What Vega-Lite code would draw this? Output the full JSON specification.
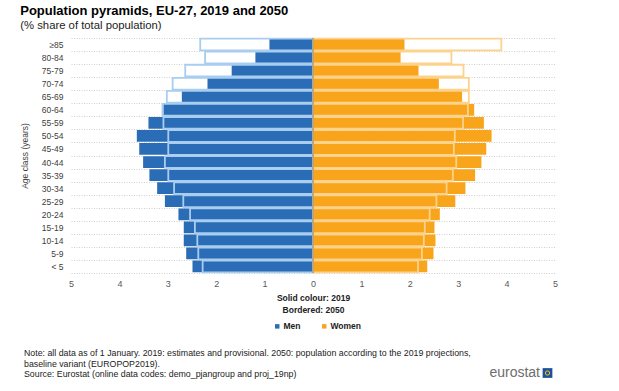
{
  "$schema": "https://vega.github.io/schema/vega-lite/v6.json",
  "background": "white",
  "padding": {"left": 20, "top": 4, "right": 10, "bottom": 4},
  "config": {"font": "Liberation Sans", "view": {"stroke": null}},
  "bounds": "flush",
  "spacing": 93,
  "resolve": {"legend": {"color": "independent"}, "scale": {"color": "independent"}},
  "title": {
    "text": "Population pyramids, EU-27, 2019 and 2050",
    "subtitle": "(% share of total population)",
    "anchor": "start",
    "frame": "bounds",
    "dx": 0,
    "fontSize": 13,
    "fontWeight": "bold",
    "color": "#000000",
    "subtitleFontSize": 11.3,
    "subtitleColor": "#222222",
    "subtitlePadding": 2,
    "offset": 3
  },
  "vconcat": [
    {
      "width": 484,
      "height": 235,
      "data": {
        "values": [
          {"age": "≥85", "sex": "Men", "year": 2019, "value": -0.90},
          {"age": "80-84", "sex": "Men", "year": 2019, "value": -1.19},
          {"age": "75-79", "sex": "Men", "year": 2019, "value": -1.68},
          {"age": "70-74", "sex": "Men", "year": 2019, "value": -2.18},
          {"age": "65-69", "sex": "Men", "year": 2019, "value": -2.71},
          {"age": "60-64", "sex": "Men", "year": 2019, "value": -3.09},
          {"age": "55-59", "sex": "Men", "year": 2019, "value": -3.40},
          {"age": "50-54", "sex": "Men", "year": 2019, "value": -3.64},
          {"age": "45-49", "sex": "Men", "year": 2019, "value": -3.59},
          {"age": "40-44", "sex": "Men", "year": 2019, "value": -3.51},
          {"age": "35-39", "sex": "Men", "year": 2019, "value": -3.38},
          {"age": "30-34", "sex": "Men", "year": 2019, "value": -3.22},
          {"age": "25-29", "sex": "Men", "year": 2019, "value": -3.06},
          {"age": "20-24", "sex": "Men", "year": 2019, "value": -2.78},
          {"age": "15-19", "sex": "Men", "year": 2019, "value": -2.67},
          {"age": "10-14", "sex": "Men", "year": 2019, "value": -2.67},
          {"age": "5-9", "sex": "Men", "year": 2019, "value": -2.62},
          {"age": "< 5", "sex": "Men", "year": 2019, "value": -2.49},
          {"age": "≥85", "sex": "Women", "year": 2019, "value": 1.89},
          {"age": "80-84", "sex": "Women", "year": 2019, "value": 1.81},
          {"age": "75-79", "sex": "Women", "year": 2019, "value": 2.18},
          {"age": "70-74", "sex": "Women", "year": 2019, "value": 2.60},
          {"age": "65-69", "sex": "Women", "year": 2019, "value": 3.08},
          {"age": "60-64", "sex": "Women", "year": 2019, "value": 3.33},
          {"age": "55-59", "sex": "Women", "year": 2019, "value": 3.53},
          {"age": "50-54", "sex": "Women", "year": 2019, "value": 3.69},
          {"age": "45-49", "sex": "Women", "year": 2019, "value": 3.58},
          {"age": "40-44", "sex": "Women", "year": 2019, "value": 3.48},
          {"age": "35-39", "sex": "Women", "year": 2019, "value": 3.35},
          {"age": "30-34", "sex": "Women", "year": 2019, "value": 3.15},
          {"age": "25-29", "sex": "Women", "year": 2019, "value": 2.94},
          {"age": "20-24", "sex": "Women", "year": 2019, "value": 2.62},
          {"age": "15-19", "sex": "Women", "year": 2019, "value": 2.51},
          {"age": "10-14", "sex": "Women", "year": 2019, "value": 2.53},
          {"age": "5-9", "sex": "Women", "year": 2019, "value": 2.49},
          {"age": "< 5", "sex": "Women", "year": 2019, "value": 2.36},
          {"age": "≥85", "sex": "Men", "year": 2050, "value": -2.33},
          {"age": "80-84", "sex": "Men", "year": 2050, "value": -2.23},
          {"age": "75-79", "sex": "Men", "year": 2050, "value": -2.64},
          {"age": "70-74", "sex": "Men", "year": 2050, "value": -2.90},
          {"age": "65-69", "sex": "Men", "year": 2050, "value": -3.02},
          {"age": "60-64", "sex": "Men", "year": 2050, "value": -3.11},
          {"age": "55-59", "sex": "Men", "year": 2050, "value": -3.09},
          {"age": "50-54", "sex": "Men", "year": 2050, "value": -2.99},
          {"age": "45-49", "sex": "Men", "year": 2050, "value": -2.99},
          {"age": "40-44", "sex": "Men", "year": 2050, "value": -3.06},
          {"age": "35-39", "sex": "Men", "year": 2050, "value": -2.99},
          {"age": "30-34", "sex": "Men", "year": 2050, "value": -2.87},
          {"age": "25-29", "sex": "Men", "year": 2050, "value": -2.68},
          {"age": "20-24", "sex": "Men", "year": 2050, "value": -2.54},
          {"age": "15-19", "sex": "Men", "year": 2050, "value": -2.44},
          {"age": "10-14", "sex": "Men", "year": 2050, "value": -2.39},
          {"age": "5-9", "sex": "Men", "year": 2050, "value": -2.37},
          {"age": "< 5", "sex": "Men", "year": 2050, "value": -2.28},
          {"age": "≥85", "sex": "Women", "year": 2050, "value": 3.89},
          {"age": "80-84", "sex": "Women", "year": 2050, "value": 2.86},
          {"age": "75-79", "sex": "Women", "year": 2050, "value": 3.11},
          {"age": "70-74", "sex": "Women", "year": 2050, "value": 3.22},
          {"age": "65-69", "sex": "Women", "year": 2050, "value": 3.22},
          {"age": "60-64", "sex": "Women", "year": 2050, "value": 3.20},
          {"age": "55-59", "sex": "Women", "year": 2050, "value": 3.10},
          {"age": "50-54", "sex": "Women", "year": 2050, "value": 2.93},
          {"age": "45-49", "sex": "Women", "year": 2050, "value": 2.91},
          {"age": "40-44", "sex": "Women", "year": 2050, "value": 2.96},
          {"age": "35-39", "sex": "Women", "year": 2050, "value": 2.89},
          {"age": "30-34", "sex": "Women", "year": 2050, "value": 2.76},
          {"age": "25-29", "sex": "Women", "year": 2050, "value": 2.55},
          {"age": "20-24", "sex": "Women", "year": 2050, "value": 2.41},
          {"age": "15-19", "sex": "Women", "year": 2050, "value": 2.31},
          {"age": "10-14", "sex": "Women", "year": 2050, "value": 2.29},
          {"age": "5-9", "sex": "Women", "year": 2050, "value": 2.25},
          {"age": "< 5", "sex": "Women", "year": 2050, "value": 2.17}
        ]
      },
      "layer": [
        {
          "transform": [{"filter": "datum.year == 2019"}],
          "mark": {"type": "bar", "height": {"band": 0.9}},
          "encoding": {
            "y": {
              "field": "age", "type": "nominal",
              "sort": ["≥85","80-84","75-79","70-74","65-69","60-64","55-59","50-54","45-49","40-44","35-39","30-34","25-29","20-24","15-19","10-14","5-9","< 5"],
              "scale": {"paddingInner": 0, "paddingOuter": 0},
              "axis": {
                "title": "Age class (years)", "titleFontSize": 8.5, "titleFontWeight": "normal", "titleColor": "#404040", "titlePadding": 12,
                "labelFontSize": 8.5, "labelColor": "#404040", "labelPadding": 8,
                "ticks": false, "domain": false, "grid": true, "gridColor": "#cfcfcf", "gridDash": [1, 1.5], "tickBand": "extent"
              }
            },
            "x": {
              "field": "value", "type": "quantitative", "stack": null,
              "scale": {"domain": [-5, 5], "nice": false},
              "axis": {
                "values": [-5, -4, -3, -2, -1, 0, 1, 2, 3, 4, 5],
                "labelExpr": "abs(datum.value)",
                "labelFlush": false, "labelFontSize": 9, "labelColor": "#595959", "labelPadding": 6,
                "ticks": false, "domain": false, "grid": false,
                "title": ["Solid colour: 2019", "Bordered: 2050"],
                "titleFontSize": 8.5, "titleFontWeight": "bold", "titleColor": "#222222", "titlePadding": 5, "titleLineHeight": 12
              }
            },
            "color": {
              "field": "sex", "type": "nominal",
              "scale": {"domain": ["Men", "Women"], "range": ["#2b6cb6", "#f9a51b"]},
              "legend": {
                "orient": "none", "legendX": 202, "legendY": 284, "direction": "horizontal", "title": null,
                "symbolType": "square", "symbolSize": 20, "symbolStrokeWidth": 0,
                "labelFontSize": 8.5, "labelFontWeight": "bold", "labelColor": "#222222",
                "columnPadding": 19, "labelOffset": 2
              }
            }
          }
        },
        {
          "transform": [{"filter": "datum.year == 2050"}],
          "mark": {"type": "bar", "height": {"band": 0.9}, "fillOpacity": 0, "strokeWidth": 1.8},
          "encoding": {
            "y": {"field": "age", "type": "nominal", "sort": ["≥85","80-84","75-79","70-74","65-69","60-64","55-59","50-54","45-49","40-44","35-39","30-34","25-29","20-24","15-19","10-14","5-9","< 5"]},
            "x": {"field": "value", "type": "quantitative", "stack": null},
            "stroke": {
              "field": "sex", "type": "nominal",
              "scale": {"domain": ["Men", "Women"], "range": ["#a9cdef", "#fdd28c"]},
              "legend": null
            }
          }
        },
        {
          "data": {"values": [{}]},
          "mark": {"type": "rule", "color": "#555555", "strokeWidth": 0.7},
          "encoding": {"x": {"datum": 0}}
        }
      ]
    },
    {
      "width": 484,
      "height": 14,
      "data": {"values": [{}]},
      "title": {
        "text": ["Note: all data as of 1 January. 2019: estimates and provisional. 2050: population according to the 2019 projections,", "baseline variant (EUROPOP2019)."],
        "subtitle": "Source: Eurostat (online data codes: demo_pjangroup and proj_19np)",
        "anchor": "start", "frame": "group", "dx": -47,
        "fontSize": 8.8, "fontWeight": "normal", "color": "#222222", "lineHeight": 10.5,
        "subtitleFontSize": 8.8, "subtitleColor": "#222222", "subtitlePadding": 1.5,
        "offset": -13
      },
      "layer": [
        {
          "mark": {"type": "text", "text": "eurostat", "align": "right", "baseline": "middle", "dx": -15, "fontSize": 14, "color": "#6d6d6d"},
          "encoding": {"x": {"datum": 1, "type": "quantitative", "scale": {"domain": [0, 1]}, "axis": null}}
        },
        {
          "mark": {"type": "square", "size": 95, "filled": true, "color": "#1f50a0", "opacity": 1},
          "encoding": {"x": {"datum": 0.9845, "type": "quantitative"}}
        },
        {
          "mark": {"type": "circle", "size": 18, "filled": false, "stroke": "#f5d000", "strokeWidth": 1, "opacity": 1},
          "encoding": {"x": {"datum": 0.9845, "type": "quantitative"}}
        }
      ]
    }
  ]
}
